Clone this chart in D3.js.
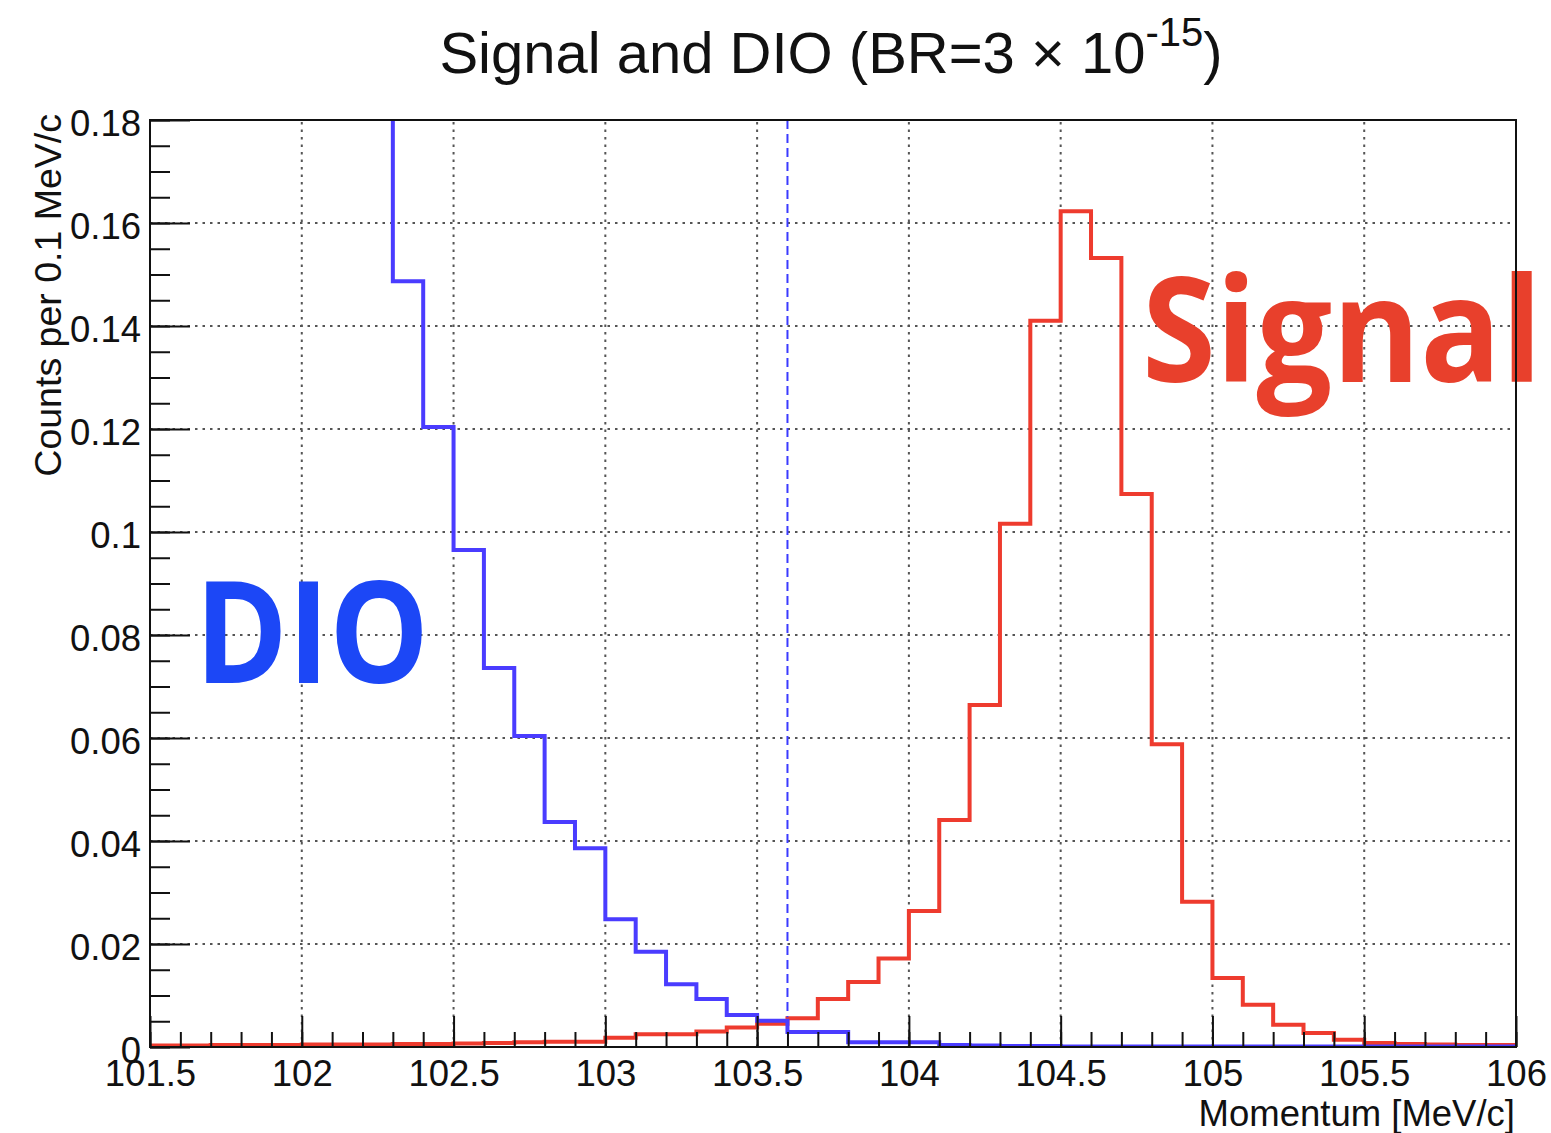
<!DOCTYPE html>
<html>
<head>
<meta charset="utf-8">
<script src="https://cdn.jsdelivr.net/npm/d3@7"></script>
<style>
  html, body { margin: 0; padding: 0; background: #fff; overflow: hidden; }
  svg { display: block; }
</style>
</head>
<body>
<svg id="chart" width="1551" height="1133"></svg>
<script>
// ---------------- data ----------------
const binEdgesStart = 101.5;   // first bin low edge (MeV/c)
const binWidth = 0.1;          // MeV/c
const xDomain = [101.5, 106];
const yDomain = [0, 0.18];

// DIO histogram (counts per 0.1 MeV/c), 45 bins 101.5 -> 106
const dioValues = [
  0.76, 0.62, 0.51, 0.42, 0.34, 0.28, 0.23, 0.185,
  0.1487, 0.1204, 0.0965, 0.0736, 0.0604, 0.0437, 0.0386,
  0.0248, 0.0185, 0.0122, 0.0093, 0.0062, 0.0051,
  0.0029, 0.0029, 0.0009, 0.0009, 0.0009,
  0.0004, 0.0003, 0.0002, 0.0002, 0.0001, 0.0001, 0.0001, 0.0001,
  0.0001, 0.0001, 0.0001, 0.0001, 0.0001, 0.0001, 0.0001, 0.0001,
  0.0001, 0.0001, 0.0001
];

// Signal histogram (counts per 0.1 MeV/c), 45 bins 101.5 -> 106
const signalValues = [
  0.0003, 0.0003, 0.0004, 0.0004, 0.0004, 0.0005, 0.0005,
  0.0005, 0.0006, 0.0006, 0.0007, 0.0008, 0.0009, 0.0010,
  0.0010, 0.0018, 0.0025, 0.0025, 0.0030, 0.0038, 0.0045,
  0.0056, 0.0093, 0.0126, 0.0172, 0.0264, 0.0441, 0.0664,
  0.1016, 0.1410, 0.1623, 0.1532, 0.1074, 0.0588, 0.0282,
  0.0134, 0.0082, 0.0043, 0.0027, 0.0014, 0.0008, 0.0006,
  0.0005, 0.0004, 0.0004
];

// momentum cut (dashed line)
const cutMomentum = 103.6;
const cutRange = [0.0058, 0.18];

// ticks
const xMajorTicks = [101.5, 102, 102.5, 103, 103.5, 104, 104.5, 105, 105.5, 106];
const xTickLabels = ["101.5", "102", "102.5", "103", "103.5", "104", "104.5", "105", "105.5", "106"];
const xMinorTicks = d3.range(0, 46).map(i => +(101.5 + i * 0.1).toFixed(2));
const yMajorTicks = [0, 0.02, 0.04, 0.06, 0.08, 0.1, 0.12, 0.14, 0.16, 0.18];
const yTickLabels = ["0", "0.02", "0.04", "0.06", "0.08", "0.1", "0.12", "0.14", "0.16", "0.18"];
const yMinorTicks = d3.range(0, 37).map(i => +(i * 0.005).toFixed(3));
const xGridTicks = [102, 102.5, 103, 103.5, 104, 104.5, 105, 105.5];
const yGridTicks = [0.02, 0.04, 0.06, 0.08, 0.1, 0.12, 0.14, 0.16];

const titleMain = "Signal and DIO (BR=3 \u00d7 10";
const titleSup = "-15";
const titleEnd = ")";
const xTitle = "Momentum [MeV/c]";
const yTitle = "Counts per 0.1 MeV/c";
const dioLabel = "DIO";
const signalLabel = "Signal";

// ---------------- layout ----------------
const m = { left: 150, right: 1516, top: 120, bottom: 1047 };
const svg = d3.select("#chart");
const x = d3.scaleLinear().domain(xDomain).range([m.left, m.right]);
const y = d3.scaleLinear().domain(yDomain).range([m.bottom, m.top]);

const axisFont = "'Liberation Sans', Arial, Helvetica, sans-serif";
const bigFont = "'Open Sans', 'Noto Sans', sans-serif";

// clip
svg.append("defs").append("clipPath").attr("id", "plotclip")
  .append("rect").attr("x", m.left).attr("y", m.top)
  .attr("width", m.right - m.left).attr("height", m.bottom - m.top);

// grid
const grid = svg.append("g").attr("class", "grid");
grid.selectAll("line.vx").data(xGridTicks).enter().append("line")
  .attr("x1", d => x(d)).attr("x2", d => x(d))
  .attr("y1", y(yDomain[0])).attr("y2", y(yDomain[1]))
  .attr("stroke", "#555").attr("stroke-width", 2).attr("stroke-dasharray", "2.5,5");
grid.selectAll("line.hy").data(yGridTicks).enter().append("line")
  .attr("y1", d => y(d)).attr("y2", d => y(d))
  .attr("x1", x(xDomain[0])).attr("x2", x(xDomain[1]))
  .attr("stroke", "#555").attr("stroke-width", 2).attr("stroke-dasharray", "2.5,5");

// big labels
svg.append("text")
  .attr("x", 195).attr("y", 683)
  .attr("font-family", bigFont)
  .attr("font-weight", 700).attr("font-size", 142)
  .attr("textLength", 234).attr("lengthAdjust", "spacingAndGlyphs")
  .attr("fill", "#1c47f6").text(dioLabel);
svg.append("text")
  .attr("x", 1142).attr("y", 382)
  .attr("font-family", bigFont)
  .attr("font-weight", 700).attr("font-size", 145)
  .attr("textLength", 400).attr("lengthAdjust", "spacingAndGlyphs")
  .attr("fill", "#e8402c").text(signalLabel);

// histograms
function stepPoints(values) {
  const pts = values.map((v, i) => [binEdgesStart + i * binWidth, v]);
  pts.push([binEdgesStart + values.length * binWidth, values[values.length - 1]]);
  return pts;
}
const stepLine = d3.line().x(d => x(d[0])).y(d => y(d[1])).curve(d3.curveStepAfter);
const hist = svg.append("g").attr("clip-path", "url(#plotclip)");
hist.append("path").datum(stepPoints(signalValues))
  .attr("d", stepLine).attr("fill", "none")
  .attr("stroke", "#ee3b2e").attr("stroke-width", 4).attr("stroke-linejoin", "miter");
hist.append("path").datum(stepPoints(dioValues))
  .attr("d", stepLine).attr("fill", "none")
  .attr("stroke", "#4a3cff").attr("stroke-width", 4).attr("stroke-linejoin", "miter");

// cut line
svg.append("line")
  .attr("x1", x(cutMomentum)).attr("x2", x(cutMomentum))
  .attr("y1", y(cutRange[1])).attr("y2", y(cutRange[0]))
  .attr("stroke", "#3a3aff").attr("stroke-width", 2).attr("stroke-dasharray", "9,5");

// axes
const xAxisMajor = d3.axisBottom(x).tickValues(xMajorTicks)
  .tickFormat((d, i) => xTickLabels[i]).tickSize(-31).tickSizeOuter(0).tickPadding(13);
const xAxisMinor = d3.axisBottom(x).tickValues(xMinorTicks)
  .tickFormat("").tickSize(-15).tickSizeOuter(0);
const yAxisMajor = d3.axisLeft(y).tickValues(yMajorTicks)
  .tickFormat((d, i) => yTickLabels[i]).tickSize(-40).tickSizeOuter(0).tickPadding(9);
const yAxisMinor = d3.axisLeft(y).tickValues(yMinorTicks)
  .tickFormat("").tickSize(-20).tickSizeOuter(0);

function styleAxis(g) {
  g.select(".domain").remove();
  g.selectAll(".tick line").attr("stroke", "#111").attr("stroke-width", 2);
  g.selectAll(".tick text").attr("font-family", axisFont).attr("font-size", 36.5).attr("fill", "#111");
}
svg.append("g").attr("transform", `translate(0,${m.bottom})`).call(xAxisMinor).call(styleAxis);
svg.append("g").attr("transform", `translate(0,${m.bottom})`).call(xAxisMajor).call(styleAxis);
svg.append("g").attr("transform", `translate(${m.left},0)`).call(yAxisMinor).call(styleAxis);
const yg = svg.append("g").attr("transform", `translate(${m.left},0)`).call(yAxisMajor).call(styleAxis);
yg.selectAll(".tick text").attr("dy", "0.42em");

// frame
svg.append("rect")
  .attr("x", x(xDomain[0])).attr("y", y(yDomain[1]))
  .attr("width", x(xDomain[1]) - x(xDomain[0])).attr("height", y(yDomain[0]) - y(yDomain[1]))
  .attr("fill", "none").attr("stroke", "#111").attr("stroke-width", 2);

// titles
const t = svg.append("text")
  .attr("x", 831).attr("y", 73).attr("text-anchor", "middle")
  .attr("font-family", axisFont).attr("font-size", 58).attr("fill", "#111");
t.append("tspan").text(titleMain);
t.append("tspan").attr("font-size", 40).attr("dy", -27).text(titleSup);
t.append("tspan").attr("dy", 27).text(titleEnd);

svg.append("text")
  .attr("x", m.right - 1).attr("y", 1126).attr("text-anchor", "end")
  .attr("font-family", axisFont).attr("font-size", 36.5).attr("fill", "#111")
  .text(xTitle);

svg.append("text")
  .attr("transform", "translate(61,114) rotate(-90)")
  .attr("text-anchor", "end")
  .attr("font-family", axisFont).attr("font-size", 37.5).attr("fill", "#111")
  .text(yTitle);
</script>
</body>
</html>
